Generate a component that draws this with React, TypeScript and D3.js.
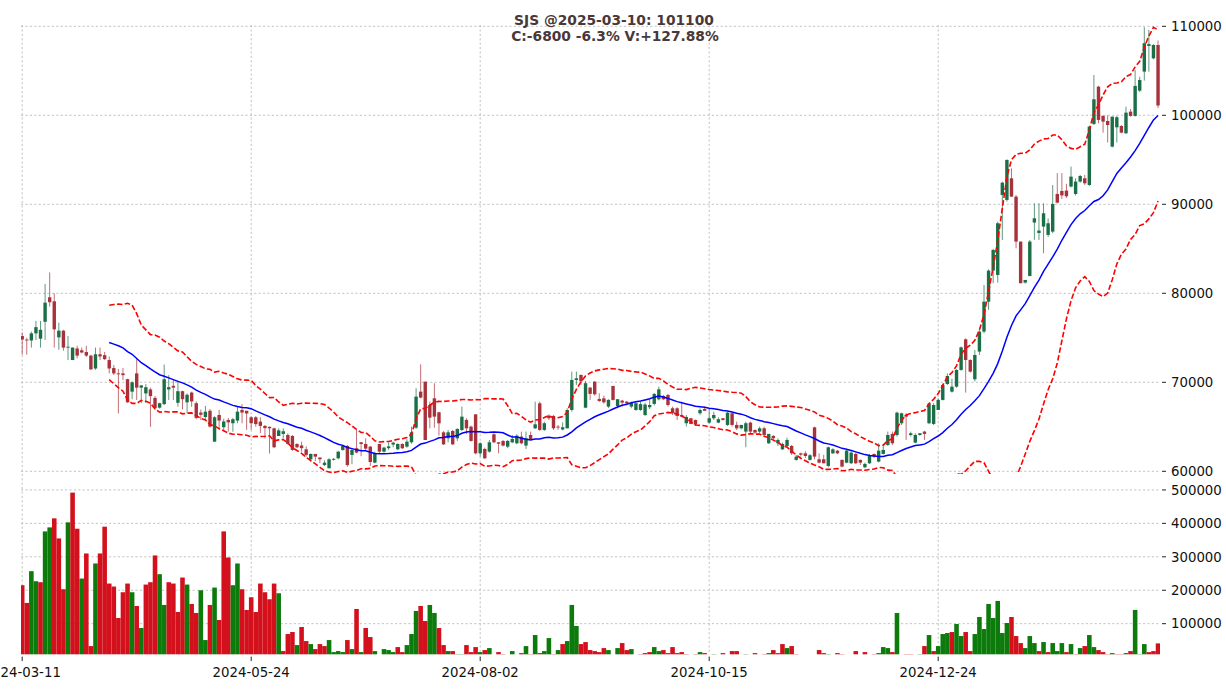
import * as d3 from "d3";

// ---- data ----
const symbol = "SJS";
const lastDate = "2025-03-10";

const tickIndex = [0, 50, 100, 150, 200];
const tickLabels = ["2024-03-11", "2024-05-24", "2024-08-02", "2024-10-15", "2024-12-24"];
const priceTicks = [60000, 70000, 80000, 90000, 100000, 110000];
const volumeTicks = [100000, 200000, 300000, 400000, 500000];

const opens = [
  75200, 74800, 74700, 75500, 74900, 76800, 79550, 79100, 75050, 75800,
  73900, 72500, 73800, 73600, 73400, 73000, 71550, 73150, 73050, 72500,
  71600, 71000, 71000, 70350, 68950, 71000, 69400, 68750, 69200, 68250,
  67150, 67550, 69200, 69600, 67700, 69000, 67750, 68850, 67650, 66600,
  66100, 66800, 63330, 66330, 64950, 65770, 65400, 65700, 66900, 66800,
  66070, 66070, 65580, 65100, 65000, 64830, 63970, 64200, 64080, 63970,
  63070, 62900, 62470, 61350, 61950, 61550, 60700, 60340, 61300, 61460,
  62400, 62850, 61840, 62590, 63260, 63070, 62770, 60970, 63070, 62210,
  62600, 63000, 62470, 63070, 62770, 63260, 64900, 68950, 70070, 67450,
  68200, 66630, 64380, 63710, 64530, 63710, 64640, 65770, 65020, 66400,
  62020, 62510, 62210, 64160, 63260, 63410, 62770, 63260, 63150, 63900,
  62890, 64080, 64830, 67640, 64650, 66250, 66220, 65020, 64700, 64830,
  66890, 70260, 70820, 67150, 69400, 70070, 68130, 68200, 67270, 69590,
  67340, 67940, 67830, 67270, 66890, 66890, 66330, 67200, 67570, 68090,
  68460, 68580, 67080, 67080, 66330, 65400, 65960, 65770, 66520, 67000,
  65470, 65960, 65470, 65960, 65210, 66520, 65210, 64830, 64460, 65470,
  64640, 64460, 64830, 63150, 63970, 63150, 62470, 62850, 62850, 61280,
  62020, 62020, 61280, 64940, 61350, 61350, 60600, 62020, 62320, 61280,
  60970, 60900, 61950, 61280, 60450, 60900, 61950, 61090, 61950, 62960,
  64200, 64080, 65400, 66330, 64080, 63220, 64080, 64460, 65400, 65320,
  66890, 68020, 69810, 68950, 69510, 71390, 74830, 72510, 70340, 73450,
  75700, 79060, 82550, 82060, 91050, 90490, 92920, 90860, 85810, 81200,
  81950, 87950, 86780, 87500, 86560, 86930, 91160, 91500, 91540, 91990,
  91160, 92550, 92920, 92170, 99030, 103220, 99930, 99360, 96480, 98650,
  98800, 97980, 100410, 99930, 102770, 104910, 107790, 106400, 107900,
];

const highs = [
  75600, 75000, 75700, 76900, 76900, 81050, 82350, 80000, 76700, 75900,
  75200, 73900, 74100, 73900, 74100, 73100, 73900, 73900, 73400, 72900,
  71950, 71500, 71600, 70400, 70100, 72600, 69700, 69800, 69400, 68450,
  67700, 72000, 70800, 70350, 70200, 69050, 68750, 68950, 67850, 66950,
  67340, 67000, 66200, 66900, 65900, 66000, 66000, 67270, 67550, 66800,
  66200, 66200, 66070, 65200, 65020, 64900, 64830, 64830, 64270, 64080,
  63150, 63330, 62800, 62000, 61950, 61550, 61250, 61460, 61500, 62300,
  62950, 62950, 62590, 64650, 63260, 63700, 62850, 62210, 63070, 62770,
  63260, 63330, 63150, 63150, 63600, 65020, 69330, 72020, 70070, 67830,
  69890, 66700, 64530, 64650, 64650, 64830, 67270, 65960, 65140, 66400,
  63260, 62660, 63520, 64270, 63260, 63500, 63520, 64080, 64160, 64460,
  64460, 64460, 67830, 67830, 65580, 66400, 66330, 65210, 65500, 67080,
  71200, 71200, 70900, 70150, 69500, 70150, 68760, 68500, 68100, 69590,
  68100, 68020, 67900, 67830, 67830, 67830, 67700, 68100, 68800, 69510,
  68580, 68690, 67270, 67200, 67830, 66330, 66000, 65800, 67080, 67270,
  67000, 66700, 66070, 66000, 66700, 66600, 65580, 65210, 65580, 65580,
  64700, 65020, 65020, 64200, 64080, 63710, 63220, 63780, 62960, 61840,
  62100, 62250, 61950, 65020, 62020, 61850, 62770, 62590, 62400, 61350,
  62400, 62210, 62100, 61350, 60970, 61950, 62000, 63150, 63000, 64460,
  64460, 66700, 66590, 66520, 64460, 64270, 64300, 64550, 67700, 67650,
  68200, 69810, 71000, 70400, 71460, 74020, 74940, 72590, 73630, 75890,
  80940, 82690, 85000, 88050, 92550, 95060, 94050, 91050, 85810, 81500,
  86000, 90110, 90110, 90110, 88400, 92170, 93500, 93500, 92300, 94240,
  92920, 93300, 93300, 98800, 104530, 103300, 100000, 100000, 99850, 99930,
  98900, 100970, 100710, 105090, 104330, 109890, 109600, 107990, 108400,
];

const lows = [
  73100, 73100, 73900, 74750, 73900, 74750, 78500, 73900, 73650, 73550,
  72500, 72500, 72700, 73250, 72850, 71400, 71400, 72500, 72500, 71000,
  70800, 66500, 70250, 67700, 68100, 68000, 67650, 67700, 65000, 66900,
  67050, 67450, 68000, 68000, 67250, 66950, 66500, 67250, 65850, 65750,
  65770, 64900, 63300, 64650, 64650, 64450, 64450, 65400, 65400, 64650,
  64650, 65000, 64300, 63700, 62000, 62600, 63970, 63700, 63000, 62300,
  62600, 62200, 61650, 61100, 61150, 60900, 60600, 60340, 61200, 61350,
  62300, 60500, 60800, 62020, 61700, 62400, 60600, 60900, 62000, 62100,
  62400, 62700, 62400, 62500, 62650, 63100, 64760, 68200, 63520, 64830,
  64900, 64010, 62960, 63250, 62960, 63410, 64530, 64180, 63330, 61900,
  61650, 61390, 62100, 63150, 62020, 62800, 62590, 63150, 63030, 63030,
  62510, 63520, 64760, 64530, 64530, 65770, 64650, 64650, 64600, 64830,
  66700, 69700, 69700, 67080, 68020, 68500, 67800, 67600, 67100, 67950,
  67080, 67270, 67400, 67080, 66800, 66800, 66200, 67000, 67400, 67950,
  68020, 67270, 66330, 65770, 66140, 65020, 65300, 65100, 66330, 66800,
  65320, 65770, 65400, 65700, 65100, 65020, 64640, 64700, 62700, 64270,
  64200, 64270, 63970, 63070, 63520, 62850, 62400, 62700, 61840, 61200,
  61650, 61500, 61200, 61350, 60900, 60900, 60450, 61950, 61900, 60450,
  60900, 60830, 60830, 60700, 60340, 60830, 61500, 61000, 61900, 62850,
  62960, 63900, 65200, 63520, 63900, 63150, 64000, 63520, 65300, 65200,
  66890, 67950, 69700, 68840, 69400, 71300, 68840, 71090, 70100, 73070,
  75500, 78130, 81130, 81200, 86000, 90300, 90860, 85060, 81130, 81100,
  81900, 86000, 86000, 84500, 86330, 86740, 90100, 90600, 90700, 91900,
  91000, 92430, 92170, 92060, 98900, 99100, 98050, 96940, 96400, 96940,
  97980, 97900, 99850, 99850, 102600, 103900, 104900, 106290, 100800,
];

const closes = [
  74800, 74700, 75500, 76200, 75900, 78950, 79000, 75950, 75800, 73900,
  74000, 73900, 73000, 73350, 73000, 71450, 73150, 72900, 72600, 71550,
  71000, 70900, 70800, 67750, 70000, 69400, 69650, 69450, 68450, 67100,
  67650, 70350, 69450, 69400, 69000, 68100, 68600, 67850, 66000, 66350,
  66700, 65020, 66070, 65700, 65600, 65500, 65850, 66700, 66600, 66500,
  65400, 65300, 65100, 64850, 64830, 62700, 64600, 64500, 63070, 62400,
  62700, 62600, 61840, 61950, 61650, 61350, 60970, 61350, 61400, 62210,
  62850, 60700, 62400, 62100, 63070, 62550, 61050, 62020, 62210, 62660,
  62800, 63220, 63070, 62590, 63330, 64380, 68390, 68280, 63520, 66030,
  66140, 65390, 63030, 64380, 63030, 64760, 66140, 64830, 63410, 62020,
  63150, 61460, 63260, 63260, 63100, 62890, 63410, 63640, 64000, 63150,
  63710, 63630, 65280, 64650, 65400, 65960, 64830, 65000, 64950, 66890,
  70260, 70450, 70100, 69900, 68700, 68650, 67900, 67750, 68020, 68020,
  68100, 67720, 67640, 67700, 67650, 67550, 67500, 67450, 68690, 69210,
  68090, 67450, 66520, 66220, 66140, 66100, 65320, 65250, 66890, 66800,
  65960, 66330, 65850, 65770, 66590, 65210, 64830, 65210, 65400, 64460,
  64350, 64830, 64080, 64200, 63710, 63520, 63070, 63520, 62020, 61650,
  61870, 61720, 61800, 61650, 60970, 60900, 62700, 62470, 62020, 60530,
  62320, 62100, 60900, 60970, 60830, 61720, 61650, 62320, 62400, 64080,
  63150, 66590, 66520, 66140, 64270, 64080, 64270, 64200, 67600, 67450,
  68020, 69700, 70710, 69510, 71390, 73930, 72510, 71200, 73070, 75700,
  79060, 82550, 84870, 87870, 92430, 94980, 90860, 85810, 81130, 81500,
  85810, 88430, 87050, 88990, 87870, 90040, 90190, 91000, 90900, 93110,
  92550, 93180, 92360, 98730, 101800, 99480, 99290, 98910, 99850, 99780,
  98050, 100300, 99930, 103300, 103970, 108100, 108000, 107900, 101100,
];

const volumes = [
  215000, 162000, 257000, 227000, 224000, 376000, 388000, 415000, 355000, 203000,
  403000, 492000, 384000, 235000, 310000, 33000, 280000, 310000, 390000, 220000,
  211000, 117000, 194000, 220000, 194000, 153000, 87000, 217000, 224000, 304000,
  248000, 156000, 224000, 220000, 135000, 238000, 217000, 159000, 132000, 200000,
  51000, 156000, 208000, 111000, 376000, 298000, 215000, 280000, 203000, 141000,
  179000, 135000, 220000, 194000, 173000, 220000, 191000, 18000, 69000, 75000,
  36000, 90000, 48000, 39000, 24000, 39000, 33000, 51000, 15000, 18000,
  15000, 51000, 24000, 144000, 15000, 87000, 60000, 18000, 5000, 24000,
  21000, 15000, 30000, 15000, 36000, 69000, 138000, 153000, 108000, 156000,
  132000, 87000, 36000, 18000, 18000, 9000, 9000, 36000, 15000, 30000,
  15000, 21000, 27000, 5000, 15000, 9000, 5000, 18000, 5000, 12000,
  33000, 9000, 66000, 12000, 18000, 57000, 9000, 21000, 39000, 48000,
  156000, 93000, 39000, 45000, 21000, 18000, 15000, 27000, 21000, 5000,
  27000, 42000, 21000, 24000, 5000, 9000, 12000, 15000, 30000, 18000,
  21000, 12000, 30000, 12000, 15000, 9000, 5000, 9000, 15000, 12000,
  5000, 9000, 5000, 12000, 5000, 18000, 18000, 5000, 9000, 5000,
  12000, 5000, 9000, 12000, 21000, 12000, 39000, 27000, 33000, 9000,
  5000, 5000, 5000, 5000, 21000, 12000, 9000, 5000, 12000, 9000,
  5000, 5000, 18000, 5000, 15000, 5000, 9000, 12000, 30000, 27000,
  15000, 132000, 5000, 9000, 9000, 5000, 9000, 33000, 66000, 18000,
  33000, 69000, 72000, 75000, 99000, 63000, 75000, 18000, 69000, 120000,
  84000, 159000, 117000, 168000, 72000, 102000, 120000, 63000, 42000, 27000,
  63000, 42000, 18000, 45000, 15000, 42000, 18000, 42000, 15000, 39000,
  9000, 27000, 33000, 66000, 30000, 21000, 15000, 9000, 12000, 9000,
  9000, 12000, 18000, 141000, 9000, 39000, 15000, 18000, 41018,
];

// ---- layout ----
const W = 1226;
const H = 690;
const plotLeft = 21;
const plotRight = 1160;
const priceTop = 25;
const priceBottom = 474;
const volTop = 479;
const volBottom = 654.6;

const N = closes.length;
const FONT = "DejaVu Sans, sans-serif";

const UP = "#1b6f47";
const DOWN = "#a7323b";
const VOL_UP = "#0c7b0c";
const VOL_DOWN = "#d3111d";
const GRID = "#b4b4b4";

const x = d3.scaleLinear().domain([0, 248]).range([22.2, 22.2 + 248 * 4.58]);
const y = d3.scaleLinear().domain([60000, 110000]).range([471.3, 26.3]);
const yv = d3.scaleLinear().domain([7500, 530000]).range([volBottom, 479.9]);
const step = x(1) - x(0);

// bollinger bands (20, 2)
const mid: [number, number][] = [];
const upper: [number, number][] = [];
const lower: [number, number][] = [];
for (let i = 19; i < N; i++) {
  const w = closes.slice(i - 19, i + 1);
  const m = d3.mean(w) as number;
  const s = d3.deviation(w) as number;
  mid.push([i, m]);
  upper.push([i, m + 2 * s]);
  lower.push([i, m - 2 * s]);
}
const line = d3
  .line<[number, number]>()
  .x((d) => x(d[0]))
  .y((d) => y(d[1]));

// title values
const chg = closes[N - 1] - closes[N - 2];
const chgPct = (chg / closes[N - 2]) * 100;
const volPct = (volumes[N - 1] / volumes[N - 2] - 1) * 100;
const sign = (v: number) => (v >= 0 ? "+" : "");
const title1 = `${symbol} @${lastDate}: ${closes[N - 1]}`;
const title2 = `C:${sign(chg)}${chg} ${sign(chgPct)}${chgPct.toFixed(1)}% V:${sign(volPct)}${volPct.toFixed(2)}%`;

export default function App() {
  return (
    <svg
      width={W}
      height={H}
      viewBox={`0 0 ${W} ${H}`}
      style={{ position: "absolute", left: 0, top: 0, background: "#fff" }}
      fontFamily={FONT}
    >
      <defs>
        <clipPath id="clip-price">
          <rect x={plotLeft} y={priceTop} width={plotRight - plotLeft} height={priceBottom - priceTop} />
        </clipPath>
        <clipPath id="clip-vol">
          <rect x={plotLeft} y={volTop} width={plotRight - plotLeft} height={volBottom - volTop} />
        </clipPath>
      </defs>

      {/* grid */}
      <g stroke={GRID} strokeWidth={0.8} strokeDasharray="2.2,2.2">
        {priceTicks.map((t) => (
          <line key={"pg" + t} x1={plotLeft} x2={plotRight} y1={y(t)} y2={y(t)} />
        ))}
        {volumeTicks.map((t) => (
          <line key={"vg" + t} x1={plotLeft} x2={plotRight} y1={yv(t)} y2={yv(t)} />
        ))}
        {tickIndex.map((t) => (
          <line key={"xg" + t} x1={x(t)} x2={x(t)} y1={priceTop} y2={volBottom} />
        ))}
      </g>

      {/* candles */}
      <g clipPath="url(#clip-price)">
        {closes.map((c, i) => {
          const o = opens[i];
          const col = c >= o ? UP : DOWN;
          const top = y(Math.max(o, c));
          const h = Math.max(0.9, Math.abs(y(o) - y(c)));
          return (
            <g key={i}>
              <line
                x1={x(i)}
                x2={x(i)}
                y1={y(highs[i])}
                y2={y(lows[i])}
                stroke={col}
                strokeWidth={1}
                strokeOpacity={0.7}
              />
              <rect x={x(i) - 1.7} width={3.4} y={top} height={h} fill={col} />
            </g>
          );
        })}
        <path d={line(mid) || ""} fill="none" stroke="#0000ff" strokeWidth={1.5} />
        <path d={line(upper) || ""} fill="none" stroke="#ff0000" strokeWidth={1.6} strokeDasharray="5.5,2.4" />
        <path d={line(lower) || ""} fill="none" stroke="#ff0000" strokeWidth={1.6} strokeDasharray="5.5,2.4" />
      </g>

      {/* volume */}
      <g clipPath="url(#clip-vol)">
        {volumes.map((v, i) => {
          const up = i === 0 ? closes[0] >= opens[0] : closes[i] >= closes[i - 1];
          const top = yv(v);
          const h = Math.max(0, volBottom - top);
          if (h <= 0) return null;
          return (
            <rect
              key={i}
              x={x(i) - step / 2}
              width={step}
              y={top}
              height={h}
              fill={up ? VOL_UP : VOL_DOWN}
            />
          );
        })}
      </g>

      {/* right axis */}
      <g fontSize={13.3} fill="#111">
        {priceTicks.map((t) => (
          <g key={"pt" + t}>
            <line x1={plotRight + 2} x2={plotRight + 6} y1={y(t)} y2={y(t)} stroke="#222" strokeWidth={1} />
            <text x={plotRight + 11} y={y(t)} dy="0.36em">
              {t}
            </text>
          </g>
        ))}
        {volumeTicks.map((t) => (
          <g key={"vt" + t}>
            <line x1={plotRight + 2} x2={plotRight + 6} y1={yv(t)} y2={yv(t)} stroke="#222" strokeWidth={1} />
            <text x={plotRight + 11} y={yv(t)} dy="0.36em">
              {t}
            </text>
          </g>
        ))}
      </g>

      {/* bottom axis */}
      <g fontSize={13.3} fill="#111" textAnchor="middle">
        {tickIndex.map((t, k) => (
          <g key={"xt" + t}>
            <line x1={x(t)} x2={x(t)} y1={volBottom + 2} y2={volBottom + 6.5} stroke="#222" strokeWidth={1} />
            <text x={x(t)} y={677}>
              {tickLabels[k]}
            </text>
          </g>
        ))}
      </g>

      {/* title */}
      <g fontSize={13.8} fontWeight="bold" fill="#4a3838" textAnchor="middle">
        <text x={614} y={24.5}>
          {title1}
        </text>
        <text x={615} y={40.5}>
          {title2}
        </text>
      </g>
    </svg>
  );
}
